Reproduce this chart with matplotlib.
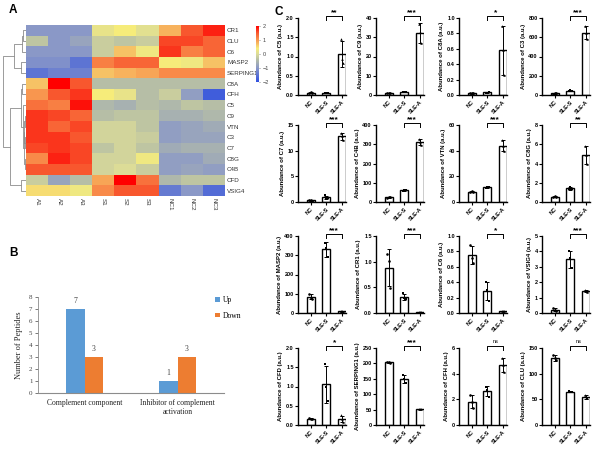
import matplotlib
matplotlib.use("Agg")
import matplotlib.pyplot as plt
import numpy as np
from matplotlib.colors import LinearSegmentedColormap

# ---------------- panel A: heatmap ----------------
genes = ["CR1", "CLU", "C6", "MASP2", "SERPING1", "C8A", "CFH", "C5",
         "C9", "VTN", "C3", "C7", "C8G", "C4B", "CFD", "VSIG4"]
samples = ["A1", "A2", "A3", "S1", "S2", "S3", "NC1", "NC2", "NC3"]
zscores = np.array([
    [-1.0, -1.0, -1.0, 0.2, 0.4, 0.1, 0.8, 1.5, 1.8],
    [-0.3, -1.0, -0.8, -0.2, -0.3, -0.2, 1.6, 1.6, 1.4],
    [-1.0, -1.0, -1.0, -0.2, 0.7, 0.3, 1.7, 1.2, 1.4],
    [-1.1, -1.1, -1.5, 1.2, 1.4, 1.4, 0.4, 0.3, 0.7],
    [-1.5, -1.3, -1.3, 0.7, 0.8, 0.9, 1.1, 1.1, 1.1],
    [0.7, 2.0, 1.5, -0.4, -0.4, -0.4, -0.4, -0.4, -0.4],
    [1.0, 1.5, 1.7, 0.4, 0.2, -0.4, -0.2, -0.9, -1.8],
    [1.3, 1.2, 1.9, -0.5, -0.6, -0.4, -0.5, -0.3, -0.4],
    [1.7, 1.6, 1.4, -0.4, -0.3, -0.3, -0.6, -0.6, -0.5],
    [1.7, 1.4, 1.6, -0.1, -0.1, -0.3, -0.9, -0.8, -0.7],
    [1.7, 1.7, 1.5, -0.1, -0.1, -0.2, -0.9, -0.8, -0.8],
    [1.6, 1.7, 1.6, -0.3, -0.1, -0.3, -0.7, -0.6, -0.6],
    [1.1, 1.8, 1.6, -0.1, -0.1, 0.3, -0.9, -0.9, -0.7],
    [1.5, 1.5, 1.5, -0.1, 0.0, -0.2, -0.9, -0.8, -0.9],
    [-0.2, -0.8, -0.4, 0.9, 2.0, 1.3, -0.5, -0.3, -0.3],
    [0.5, 0.5, 0.3, 1.1, 1.5, 1.5, -1.4, -1.0, -1.6],
])
# row tree: (left, right, merge height)
tree = (
    ((("CR1", "CLU", 3.3), "C6", 4.3), ("MASP2", "SERPING1", 5.3), 12.0),
    (((("C8A", "CFH", 4.0),
       ("C5", ((("C9", "VTN", 1.0), ("C3", "C7", 1.2), 1.8), ("C8G", "C4B", 1.5), 2.5), 3.0),
       5.3),
      ("CFD", "VSIG4", 5.3), 16.0)),
    23.3,
)

# ---------------- panel B ----------------
b_categories = ["Complement component", "Inhibitor of complement\nactivation"]
b_up = [7, 1]
b_down = [3, 3]

# ---------------- panel C ----------------
groups = ["NC", "SLE-S", "SLE-A"]
proteins = ["C5", "C9", "C8A", "C3", "C7", "C4B", "VTN", "C8G",
            "MASP2", "CR1", "C6", "VSIG4", "CFD", "SERPING1", "CFH", "CLU"]
y_max = [2.0, 40, 1.0, 800, 15, 400, 60, 8, 400, 1.5, 1.0, 5, 2.0, 250, 6, 150]
y_step = [0.5, 10, 0.2, 200, 5, 100, 20, 2, 100, 0.5, 0.2, 1, 0.5, 50, 2, 50]
signif = ["**", "***", "*", "***", "***", "***", "***", "**",
          "***", "***", "*", "***", "*", "***", "ns", "ns"]
nc_vals = [[0.05, 0.07, 0.06], [0.8, 1.1, 1.0], [0.02, 0.02, 0.03], [15, 22, 20],
           [0.3, 0.35, 0.25], [22, 28, 25], [8, 8.5, 7.8], [0.55, 0.6, 0.5],
           [100, 80, 75], [1.15, 1.02, 0.48], [0.88, 0.72, 0.65], [0.3, 0.2, 0.15],
           [0.18, 0.15, 0.16], [203, 204, 202], [2.3, 1.8, 1.3], [137, 130, 126]]
s_vals = [[0.04, 0.05, 0.06], [1.3, 1.6, 1.7], [0.03, 0.03, 0.04], [40, 48, 46],
          [1.3, 0.8, 0.7], [58, 63, 60], [11, 12, 11.5], [1.3, 1.6, 1.4],
          [365, 340, 290], [0.38, 0.30, 0.27], [0.40, 0.30, 0.16], [4.0, 3.6, 2.9],
          [1.58, 0.98, 0.62], [162, 150, 135], [3.0, 2.7, 2.2], [66, 64, 65]]
a_vals = [[1.45, 0.93, 0.82], [37.0, 32.5, 27.0], [0.90, 0.58, 0.26], [715, 640, 580],
          [13.5, 12.8, 12.1], [325, 310, 297], [48, 44, 40], [5.8, 4.9, 3.9],
          [8, 9, 7], [0.02, 0.02, 0.02], [0.02, 0.02, 0.02], [1.5, 1.4, 1.35],
          [0.25, 0.15, 0.08], [52, 53, 52], [5.2, 4.7, 4.1], [59, 53, 52]]

W, H = 600, 451
fig = plt.figure(figsize=(6, 4.51), dpi=100)


def box(x0, y0, x1, y1):
    # pixel box (top-left origin) -> figure fraction rect
    return [x0 / W, 1 - y1 / H, (x1 - x0) / W, (y1 - y0) / H]


sans = "Liberation Sans"
serif = "Liberation Serif"

# panel letters
for lab, px, py in [("A", 13, 10), ("B", 13, 253), ("C", 279, 12)]:
    fig.text(px / W, 1 - py / H, lab, fontsize=8.5, fontweight="bold",
             family=sans, va="center", ha="center")

# ---- heatmap
cmap = LinearSegmentedColormap.from_list("hm", [
    (0.0, "#3050e0"), (0.25, "#8a98c8"), (0.4, "#b6bea6"), (0.5, "#dcdc98"),
    (0.6, "#f6ec7a"), (0.75, "#f89850"), (0.875, "#f85a30"), (1.0, "#ff0000")])
axh = fig.add_axes(box(26, 25, 225, 196))
im = axh.imshow(zscores, cmap=cmap, vmin=-2, vmax=2, aspect="auto",
                interpolation="nearest", extent=(0, len(samples), len(genes), 0))
axh.set_xticks(np.arange(len(samples)) + 0.5)
axh.set_xticklabels(samples, rotation=270, fontsize=4.5, family=sans, color="#333333")
axh.set_yticks(np.arange(len(genes)) + 0.5)
axh.set_yticklabels(genes, fontsize=4.5, family=sans, color="#333333")
axh.yaxis.tick_right()
axh.tick_params(length=0, pad=1.5)
for s in axh.spines.values():
    s.set_visible(False)

# ---- dendrogram
axd = fig.add_axes(box(0, 25, 26, 196))


def draw_tree(ax, node):
    if isinstance(node, str):
        return genes.index(node) + 0.5, 0.0
    left, right, h = node
    y1, h1 = draw_tree(ax, left)
    y2, h2 = draw_tree(ax, right)
    ax.plot([h1, h, h, h2], [y1, y1, y2, y2], color="#8c8c8c", lw=0.6)
    return (y1 + y2) / 2, h


draw_tree(axd, tree)
axd.set_xlim(26, 0)
axd.set_ylim(len(genes), 0)
axd.axis("off")

# ---- colorbar
axc = fig.add_axes(box(256, 26, 259, 82))
cb = fig.colorbar(im, cax=axc, ticks=[-2, -1, 0, 1, 2])
cb.outline.set_visible(False)
axc.tick_params(labelsize=4, length=1, width=0.4, pad=1.5, colors="#444444")
for t in axc.get_yticklabels():
    t.set_family(sans)

# ---------------- panel B ----------------
axb = fig.add_axes(box(38, 297, 224, 393))
xb = np.arange(len(b_categories))
bw = 0.2
r1 = axb.bar(xb - bw / 2, b_up, bw, color="#5b9bd5", label="Up")
r2 = axb.bar(xb + bw / 2, b_down, bw, color="#ed7d31", label="Down")
for bars in (r1, r2):
    for rect in bars:
        axb.text(rect.get_x() + rect.get_width() / 2, rect.get_height() + 0.35,
                 "%d" % rect.get_height(), ha="center", va="bottom",
                 fontsize=5.5, family=serif, color="#404040")
axb.set_xlim(-0.5, 1.5)
axb.set_ylim(0, 8)
axb.set_yticks(range(0, 9))
axb.set_xticks(xb)
axb.set_xticklabels(b_categories, fontsize=5.5, family=serif, color="#222222")
axb.tick_params(axis="x", length=0, pad=4)
axb.tick_params(axis="y", length=2, width=0.5, labelsize=5, pad=2, colors="#444444")
for t in axb.get_yticklabels():
    t.set_family(serif)
axb.set_ylabel("Number of Peptides", fontsize=6, family=serif, labelpad=4, color="#222222")
for s in ["top", "right"]:
    axb.spines[s].set_visible(False)
axb.spines["left"].set_color("#8c8c8c")
axb.spines["bottom"].set_color("#8c8c8c")
axb.spines["left"].set_linewidth(0.6)
axb.spines["bottom"].set_linewidth(0.8)
axb.legend(loc="upper left", bbox_to_anchor=(215 / W, 1 - 296 / H),
           bbox_transform=fig.transFigure, frameon=False, fontsize=5.5,
           prop={"family": serif, "size": 5.5}, handlelength=0.6, handleheight=0.6,
           handletextpad=0.4, labelspacing=1.0, borderaxespad=0, borderpad=0)

# ---------------- panel C ----------------
col_left = [298, 376, 459, 542]
row_top = [18, 125, 236, 348]
ax_w, ax_h = 48, 77
markers = ["o", "s", "^"]
offsets = [-0.09, 0.0, 0.09]

for i, name in enumerate(proteins):
    r, c = divmod(i, 4)
    x0, y0 = col_left[c], row_top[r]
    ax = fig.add_axes(box(x0, y0, x0 + ax_w, y0 + ax_h))
    vals = [nc_vals[i], s_vals[i], a_vals[i]]
    means = [np.mean(v) for v in vals]
    sds = [np.std(v, ddof=1) for v in vals]
    xs = np.arange(3)
    ax.bar(xs, means, width=0.5, color="white", edgecolor="black", lw=1.0, zorder=2)
    ax.errorbar(xs, means, yerr=sds, fmt="none", ecolor="black", elinewidth=0.7,
                capsize=1.5, capthick=0.7, zorder=3)
    for j, v in enumerate(vals):
        ax.scatter(np.array(offsets) + j, v, marker=markers[j], s=3.5,
                   color="black", zorder=4, linewidths=0)
    ym, st = y_max[i], y_step[i]
    ax.set_ylim(0, ym)
    ax.set_xlim(-0.8, 2.25)
    ticks = np.arange(0, ym + st / 2, st)
    ax.set_yticks(ticks)
    fmt = "%.1f" if st < 1 else "%d"
    ax.set_yticklabels([fmt % t for t in ticks])
    ax.set_xticks(xs)
    ax.set_xticklabels(groups, rotation=45, ha="right", rotation_mode="anchor")
    ax.tick_params(labelsize=4, length=2, width=0.8, pad=1)
    for t in ax.get_xticklabels() + ax.get_yticklabels():
        t.set_family(sans)
        t.set_fontweight("bold")
    ax.set_ylabel("Abundance of %s (a.u.)" % name, fontsize=4.3, family=sans,
                  fontweight="bold", labelpad=2)
    for s in ["top", "right"]:
        ax.spines[s].set_visible(False)
    for s in ["left", "bottom"]:
        ax.spines[s].set_linewidth(1.0)
    # significance bracket between SLE-S and SLE-A
    yb = ym * 1.02
    tk = ym * 0.05
    ax.plot([1, 1, 2, 2], [yb - tk, yb, yb, yb - tk], color="black", lw=0.7,
            clip_on=False)
    is_ns = signif[i] == "ns"
    ax.text(1.5, yb + ym * (0.03 if is_ns else 0.0), signif[i], ha="center",
            va="bottom", fontsize=4 if is_ns else 6, fontweight="normal" if is_ns else "bold",
            family=sans)

fig.savefig("out.png", dpi=100)
